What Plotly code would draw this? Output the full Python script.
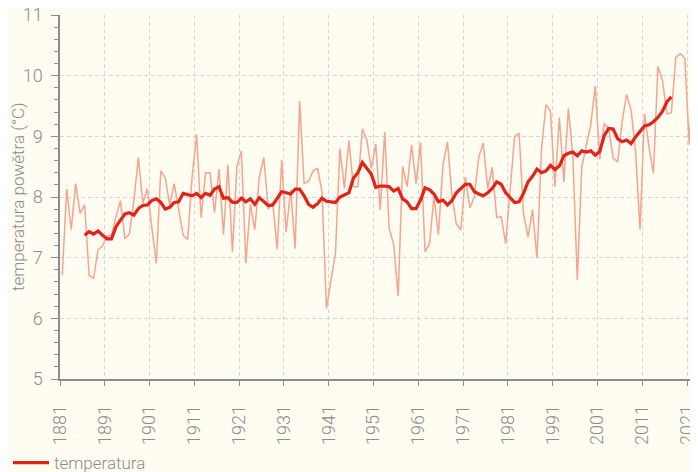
import plotly.graph_objects as go

years = list(range(1881, 2023))
temperature = [
    6.71, 8.13, 7.46, 8.22, 7.73, 7.87, 6.71, 6.66, 7.13, 7.19,
    7.36, 7.37, 7.68, 7.94, 7.31, 7.39, 7.95, 8.65, 7.90, 8.14,
    7.50, 6.91, 8.43, 8.31, 7.87, 8.22, 7.79, 7.37, 7.30, 8.33,
    9.03, 7.66, 8.40, 8.40, 7.74, 8.46, 7.38, 8.53, 7.10, 8.50,
    8.76, 6.91, 7.88, 7.46, 8.33, 8.65, 7.80, 7.90, 7.14, 8.61,
    7.42, 8.12, 7.15, 9.58, 8.22, 8.26, 8.43, 8.47, 8.09, 6.16,
    6.63, 7.07, 8.80, 8.14, 8.93, 8.17, 8.17, 9.12, 8.94, 8.47,
    8.87, 7.79, 9.07, 7.48, 7.22, 6.37, 8.50, 8.17, 8.86, 8.22,
    8.90, 7.10, 7.23, 8.00, 7.38, 8.53, 8.91, 8.03, 7.55, 7.46,
    8.33, 7.82, 8.00, 8.66, 8.89, 8.14, 8.49, 7.66, 7.68, 7.23,
    8.12, 9.00, 9.05, 7.73, 7.34, 7.79, 6.99, 8.78, 9.52, 9.42,
    8.17, 9.31, 8.25, 9.46, 8.69, 6.63, 8.50, 8.83, 9.19, 9.83,
    8.62, 9.21, 9.13, 8.64, 8.58, 9.24, 9.69, 9.43, 8.77, 7.46,
    9.37, 8.83, 8.39, 10.15, 9.93, 9.37, 9.39, 10.30, 10.36, 10.29,
    8.86, 10.18,
]

avg_years = list(range(1886, 2018))
avg_temperature = [
    7.37, 7.43, 7.39, 7.44, 7.37, 7.31, 7.31, 7.51, 7.62, 7.72,
    7.74, 7.70, 7.81, 7.86, 7.87, 7.94, 7.97, 7.91, 7.80, 7.83,
    7.91, 7.92, 8.06, 8.04, 8.02, 8.06, 7.99, 8.06, 8.03, 8.13,
    8.17, 7.98, 7.99, 7.91, 7.91, 7.98, 7.92, 7.97, 7.88, 7.99,
    7.92, 7.86, 7.87, 7.98, 8.09, 8.07, 8.05, 8.13, 8.13, 8.02,
    7.88, 7.83, 7.89, 7.98, 7.93, 7.92, 7.91, 8.00, 8.04, 8.07,
    8.31, 8.40, 8.57, 8.47, 8.38, 8.16, 8.18, 8.18, 8.17, 8.10,
    8.14, 7.97, 7.92, 7.81, 7.81, 7.95, 8.15, 8.12, 8.05, 7.92,
    7.95, 7.87, 7.94, 8.07, 8.14, 8.21, 8.21, 8.09, 8.05, 8.02,
    8.07, 8.14, 8.25, 8.21, 8.07, 7.99, 7.91, 7.92, 8.06, 8.25,
    8.34, 8.46, 8.40, 8.43, 8.52, 8.45, 8.51, 8.68, 8.72, 8.74,
    8.68, 8.76, 8.74, 8.76, 8.69, 8.75, 9.01, 9.13, 9.12, 8.96,
    8.91, 8.94, 8.88, 8.99, 9.09, 9.17, 9.19, 9.24, 9.31, 9.41,
    9.57, 9.65,
]

tick_years = list(range(1881, 2022, 10))
tick_labels = [str(y) for y in tick_years]
y_title = "temperatura powětra (°C)"

bg = "#fffcf1"
grey = "#8c8c8c"
font_family = "Roboto, 'Open Sans', sans-serif"

fig = go.Figure()
fig.add_trace(go.Scatter(
    x=years, y=temperature, mode="lines",
    line=dict(color="#f6a48f", width=1.5),
    showlegend=False, hoverinfo="skip",
))
fig.add_trace(go.Scatter(
    x=avg_years, y=avg_temperature, mode="lines", name="temperatura",
    line=dict(color="#e2231a", width=3.2),
))

fig.update_layout(
    width=690, height=464,
    margin=dict(l=52, r=2, t=7, b=93, autoexpand=False),
    paper_bgcolor=bg, plot_bgcolor=bg,
    font=dict(family=font_family, color=grey, size=16, weight=300),
    legend=dict(
        orientation="h", xref="container", yref="paper",
        x=-0.009, xanchor="left", y=-0.231, yanchor="middle",
        font=dict(size=17, color=grey, weight=300), bgcolor="rgba(0,0,0,0)",
        itemwidth=36,
    ),
    annotations=[dict(
        text=y_title, textangle=-90, showarrow=False,
        xref="paper", yref="paper", x=-0.066, y=0.5,
        xanchor="center", yanchor="middle",
        font=dict(size=17, color=grey, weight=300),
    )],
)

fig.update_xaxes(
    range=[1880.5, 2022.5],
    tickmode="array",
    tickvals=[y - 0.5 for y in tick_years],
    ticktext=tick_labels,
    tickangle=-90,
    ticks="outside", ticklen=5, tickcolor=grey, tickwidth=1,
    showline=True, linecolor=grey, linewidth=1.5,
    showgrid=True, gridcolor="#d6d6d6", gridwidth=1, griddash="4px,3px",
    zeroline=False,
    tickfont=dict(size=18, color=grey, weight=300),
    ticklabelstandoff=12,
)

fig.update_yaxes(
    range=[5, 11],
    tickmode="linear", tick0=5, dtick=1,
    ticks="outside", ticklen=7, tickcolor=grey, tickwidth=1,
    minor=dict(dtick=0.2, ticks="outside", ticklen=4, tickcolor=grey, showgrid=False),
    showline=True, linecolor=grey, linewidth=1.5,
    showgrid=True, gridcolor="#d6d6d6", gridwidth=1, griddash="4px,3px",
    zeroline=False,
    tickfont=dict(size=18, color=grey, weight=300),
    ticklabelstandoff=5,
    ticklabeloverflow="allow",
)

fig.write_html("out.html")
